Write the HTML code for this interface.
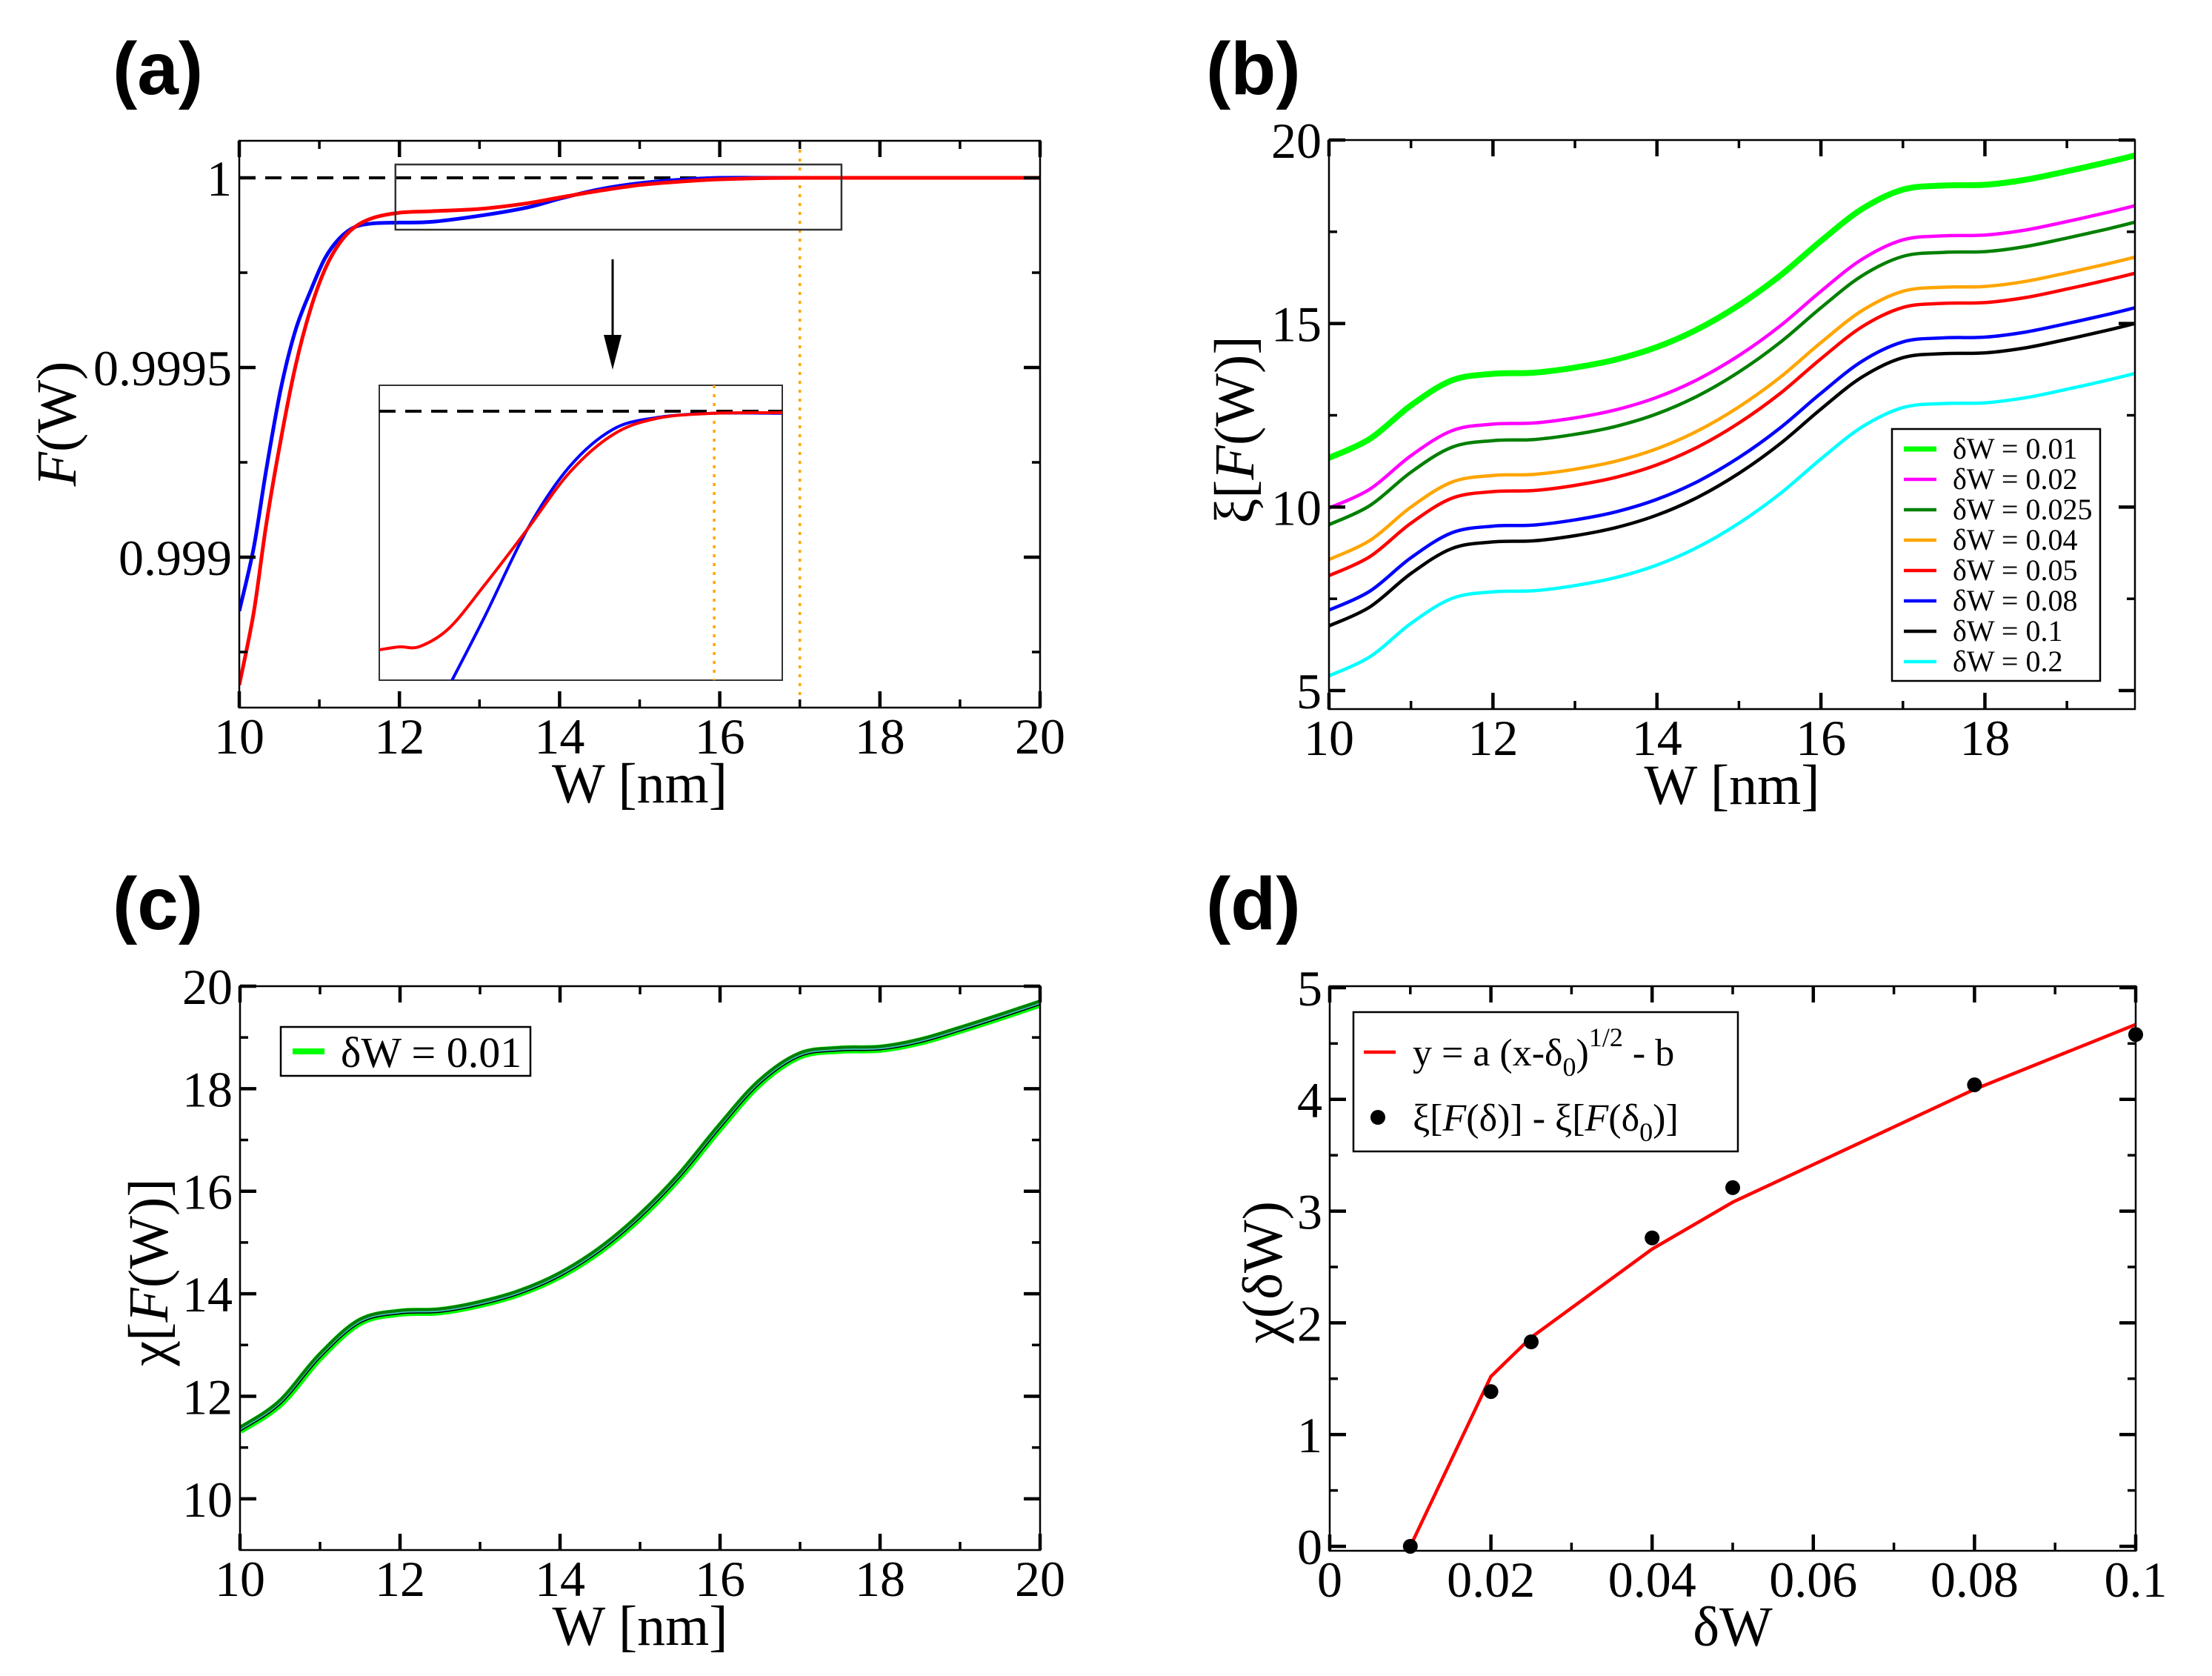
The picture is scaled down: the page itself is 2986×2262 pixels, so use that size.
<!DOCTYPE html>
<html><head><meta charset="utf-8"><style>
html,body{margin:0;padding:0;background:#fff;}
svg{display:block;}
text{font-family:"Liberation Serif","DejaVu Serif",serif;fill:#000;}
.pl{font-family:"Liberation Sans","DejaVu Sans",sans-serif;font-weight:bold;font-size:100px;}
</style></head>
<body>
<svg id="fig" xmlns="http://www.w3.org/2000/svg" width="2986" height="2262" viewBox="0 0 2986 2262">
<rect x="0" y="0" width="2986" height="2262" fill="#fff"/>
<text class="pl" x="152" y="127">(a)</text>
<text class="pl" x="1628" y="127">(b)</text>
<text class="pl" x="152" y="1254">(c)</text>
<text class="pl" x="1628" y="1254">(d)</text>
</svg>
<script>
// ---- Panel (a) data ----
const aW = [10,10.18,10.34,10.52,10.7,10.89,11.07,11.25,11.44,11.68,12,12.4,13,13.6,14,14.5,15,15.5,16,16.5,17,18,19,20];
const aBlue = [0.998858,0.999025,0.999235,0.999445,0.999597,0.999702,0.999788,0.99984,0.99987,0.99988,0.999882,0.999884,0.9999,0.999922,0.999945,0.99997,0.999986,0.999995,1.0,1.0,1.0,1.0,1.0,1.0];
const aRed = [0.998663,0.998854,0.999091,0.999311,0.999502,0.999654,0.999759,0.999827,0.99987,0.999895,0.999908,0.999912,0.999918,0.999933,0.999948,0.999966,0.999981,0.99999,0.999996,0.999999,1.0,1.0,1.0,1.0];
const aVline = 17;
const aRef = 1;
// inset (normalized units 0..100)
const insU_red = [0,5,10,17.3,26.1,36.8,47.2,57.9,68.6,82.7,100];
const insV_red = [10.3,11.3,11.4,17.6,32.2,51.3,70.4,83.2,88.7,90.5,90.7];
const insU_blue = [17.3,26.1,36.8,47.2,57.9,68.6,82.7,100];
const insV_blue = [-2,21.4,51.3,72.4,85,89,90.5,90.5];
const insRef = 91.2;
const insVline = 83.1;
const aYTicks = ['0.999','0.9995','1'];
const aYTickVals = [0.999,0.9995,1];
const aXTicks = ['10','12','14','16','18','20'];

// ---- Panel (b) data ----
const bW = [10,10.5,11,11.5,12,12.5,13,13.5,14,14.5,15,15.5,16,16.5,17,17.5,18,18.5,19,19.5,19.83];
const bLabels = ['δW = 0.01','δW = 0.02','δW = 0.025','δW = 0.04','δW = 0.05','δW = 0.08','δW = 0.1','δW = 0.2'];
const b001 = [11.34,11.86,12.77,13.45,13.63,13.66,13.8,14.02,14.36,14.85,15.5,16.3,17.25,18.12,18.65,18.76,18.78,18.92,19.15,19.4,19.58];
const b002 = [9.97,10.49,11.40,12.08,12.26,12.29,12.43,12.65,12.99,13.48,14.13,14.93,15.88,16.75,17.28,17.39,17.41,17.55,17.78,18.03,18.21];
const b0025 = [9.52,10.04,10.95,11.63,11.81,11.84,11.98,12.20,12.54,13.03,13.68,14.48,15.43,16.30,16.83,16.94,16.96,17.10,17.33,17.58,17.76];
const b004 = [8.57,9.09,10.00,10.68,10.86,10.89,11.03,11.25,11.59,12.08,12.73,13.53,14.48,15.35,15.88,15.99,16.01,16.15,16.38,16.63,16.81];
const b005 = [8.13,8.65,9.56,10.24,10.42,10.45,10.59,10.81,11.15,11.64,12.29,13.09,14.04,14.91,15.44,15.55,15.57,15.71,15.94,16.19,16.37];
const b008 = [7.19,7.71,8.62,9.30,9.48,9.51,9.65,9.87,10.21,10.70,11.35,12.15,13.10,13.97,14.50,14.61,14.63,14.77,15.00,15.25,15.43];
const b01 = [6.76,7.28,8.19,8.87,9.05,9.08,9.22,9.44,9.78,10.27,10.92,11.72,12.67,13.54,14.07,14.18,14.20,14.34,14.57,14.82,15.0];
const b02 = [5.40,5.92,6.83,7.51,7.69,7.72,7.86,8.08,8.42,8.91,9.56,10.36,11.31,12.18,12.71,12.82,12.84,12.98,13.21,13.46,13.64];
const bYTicks = ['5','10','15','20'];
const bXTicks = ['10','12','14','16','18'];

// ---- Panel (c) data ----
const cW = [10,10.5,11,11.5,12,12.5,13,13.5,14,14.5,15,15.5,16,16.5,17,17.5,18,18.5,19,19.5,20];
const cChi = [11.34,11.86,12.77,13.45,13.63,13.66,13.8,14.02,14.36,14.85,15.5,16.3,17.25,18.12,18.65,18.76,18.78,18.92,19.15,19.4,19.66];
const cYTicks = ['10','12','14','16','18','20'];
const cXTicks = ['10','12','14','16','18','20'];

// ---- Panel (d) data ----
const dFitX = [0.01,0.02,0.025,0.04,0.05,0.08,0.1];
const dFitY = [0,1.52,1.87,2.66,3.08,4.09,4.67];
const dPtX = [0.01,0.02,0.025,0.04,0.05,0.08,0.1];
const dPtY = [0,1.385,1.83,2.76,3.21,4.13,4.58];
const dYTicks = ['0','1','2','3','4','5'];
const dXTicks = ['0','0.02','0.04','0.06','0.08','0.1'];

const NS = 'http://www.w3.org/2000/svg';
const svg = document.getElementById('fig');
function mk(tag, attrs, parent) {
  const e = document.createElementNS(NS, tag);
  for (const k in attrs) e.setAttribute(k, attrs[k]);
  (parent || svg).appendChild(e);
  return e;
}
function scales(p) {
  return {
    sx: v => p.px0 + (v - p.x0) / (p.x1 - p.x0) * (p.px1 - p.px0),
    sy: v => p.py1 - (v - p.y0) / (p.y1 - p.y0) * (p.py1 - p.py0)
  };
}
function smooth(pts) {
  let d = 'M' + pts[0][0].toFixed(1) + ',' + pts[0][1].toFixed(1);
  const n = pts.length;
  for (let i = 0; i < n - 1; i++) {
    const p0 = pts[Math.max(i - 1, 0)], p1 = pts[i], p2 = pts[i + 1], p3 = pts[Math.min(i + 2, n - 1)];
    const c1x = p1[0] + (p2[0] - p0[0]) / 6, c1y = p1[1] + (p2[1] - p0[1]) / 6;
    const c2x = p2[0] - (p3[0] - p1[0]) / 6, c2y = p2[1] - (p3[1] - p1[1]) / 6;
    d += 'C' + c1x.toFixed(1) + ',' + c1y.toFixed(1) + ' ' + c2x.toFixed(1) + ',' + c2y.toFixed(1) + ' ' + p2[0].toFixed(1) + ',' + p2[1].toFixed(1);
  }
  return d;
}
let clipId = 0;
function clipFor(p) {
  clipId++;
  const cp = mk('clipPath', {id: 'clip' + clipId});
  mk('rect', {x: p.px0, y: p.py0, width: p.px1 - p.px0, height: p.py1 - p.py0}, cp);
  return 'url(#clip' + clipId + ')';
}
function frame(p, name) {
  const r = mk('rect', {x: p.px0, y: p.py0, width: p.px1 - p.px0, height: p.py1 - p.py0, fill: 'none', stroke: '#000', 'stroke-width': 2.5});
  
  
}
function ticks(p, S, xs, major) {
  const L = major ? 22 : 11;
  const w = major ? 4.5 : 3.5;
  for (const v of xs) {
    const x = S.sx(v);
    const t1 = mk('line', {x1: x, x2: x, y1: p.py1, y2: p.py1 - L, stroke: '#000', 'stroke-width': w});
    
    
    const t2 = mk('line', {x1: x, x2: x, y1: p.py0, y2: p.py0 + L, stroke: '#000', 'stroke-width': w});
    
    
  }
}
function yticks(p, S, ys, major) {
  const L = major ? 22 : 11;
  const w = major ? 4.5 : 3.5;
  for (const v of ys) {
    const y = S.sy(v);
    const t1 = mk('line', {x1: p.px0, x2: p.px0 + L, y1: y, y2: y, stroke: '#000', 'stroke-width': w});
    
    
    const t2 = mk('line', {x1: p.px1, x2: p.px1 - L, y1: y, y2: y, stroke: '#000', 'stroke-width': w});
    
    
  }
}
function xlabels(p, S, labels, vals) {
  labels.forEach((s, i) => {
    const t = mk('text', {x: S.sx(vals[i]), y: p.py1 + 62, 'font-size': 68, 'text-anchor': 'middle'});
    t.textContent = s;
    
    
  });
}
function ylabels(p, S, labels, vals) {
  labels.forEach((s, i) => {
    const t = mk('text', {x: p.px0 - 10, y: S.sy(vals[i]) + 24, 'font-size': 68, 'text-anchor': 'end'});
    t.textContent = s;
    
    
  });
}
function xtitle(p, html, name) {
  const t = mk('text', {x: (p.px0 + p.px1) / 2, y: p.py1 + 128, 'font-size': 76, 'text-anchor': 'middle'});
  t.innerHTML = html;
  
  
}
function ytitle(cx, cy, html, name) {
  const t = mk('text', {x: cx, y: cy + 26, 'font-size': 76, 'text-anchor': 'middle', transform: 'rotate(-90 ' + cx + ' ' + cy + ')'});
  t.innerHTML = html;
  
  
}
function range(a, b, st) { const r = []; for (let v = a; v <= b + 1e-9; v += st) r.push(+v.toFixed(6)); return r; }

// ================= Panel (a) =================
const pa = {x0: 10, x1: 20, y0: 1 - 715 / 512 * 0.001, y1: 1 + 50 / 512 * 0.001, px0: 323, px1: 1404, py0: 190, py1: 955};
const Sa = scales(pa);
const clipA = clipFor(pa);
const gA = mk('g', {'clip-path': clipA});


const refA = mk('line', {x1: Sa.sx(10), x2: Sa.sx(20), y1: Sa.sy(aRef), y2: Sa.sy(aRef), stroke: '#000', 'stroke-width': 4, 'stroke-dasharray': '22 13'}, gA);


const vA = mk('line', {x1: Sa.sx(aVline), x2: Sa.sx(aVline), y1: pa.py0, y2: pa.py1, stroke: '#ffa500', 'stroke-width': 3.5, 'stroke-dasharray': '4 8'}, gA);


const blueA = mk('path', {d: smooth(aW.map((w, i) => [Sa.sx(w), Sa.sy(aBlue[i])])), fill: 'none', stroke: '#0000ff', 'stroke-width': 5}, gA);


const redA = mk('path', {d: smooth(aW.map((w, i) => [Sa.sx(w), Sa.sy(aRed[i])])), fill: 'none', stroke: '#ff0000', 'stroke-width': 5}, gA);


const zb = mk('rect', {x: Sa.sx(11.95), y: Sa.sy(1 + 18 / 512 * 0.001), width: Sa.sx(17.52) - Sa.sx(11.95), height: Sa.sy(1 - 70 / 512 * 0.001) - Sa.sy(1 + 18 / 512 * 0.001), fill: 'none', stroke: '#333', 'stroke-width': 2.5});


const arl = mk('line', {x1: 827, x2: 827, y1: 350, y2: 460, stroke: '#000', 'stroke-width': 3});


const arh = mk('polygon', {points: '815,452 839,452 827,499', fill: '#000'});


// inset
const pi = {x0: 0, x1: 100, y0: 0, y1: 100, px0: 512, px1: 1056, py0: 520, py1: 918};
const Si = scales(pi);
const insBg = mk('rect', {x: 512, y: 520, width: 544, height: 398, fill: '#fff', stroke: '#333', 'stroke-width': 2});


const clipI = clipFor(pi);
const gI = mk('g', {'clip-path': clipI});


const iref = mk('line', {x1: 512, x2: 1056, y1: Si.sy(insRef), y2: Si.sy(insRef), stroke: '#000', 'stroke-width': 4, 'stroke-dasharray': '22 13'}, gI);


const iv = mk('line', {x1: Si.sx(insVline), x2: Si.sx(insVline), y1: 520, y2: 918, stroke: '#ffa500', 'stroke-width': 3.5, 'stroke-dasharray': '4 8'}, gI);


const ib = mk('path', {d: smooth(insU_blue.map((u, i) => [Si.sx(u), Si.sy(insV_blue[i])])), fill: 'none', stroke: '#0000ff', 'stroke-width': 4}, gI);


const ir = mk('path', {d: smooth(insU_red.map((u, i) => [Si.sx(u), Si.sy(insV_red[i])])), fill: 'none', stroke: '#ff0000', 'stroke-width': 4}, gI);



frame(pa, 'panel-a-frame');
ticks(pa, Sa, range(10, 20, 2), true);
ticks(pa, Sa, range(11, 19, 2), false);
yticks(pa, Sa, aYTickVals, true);
yticks(pa, Sa, [0.99875, 0.99925, 0.99975], false);
xlabels(pa, Sa, aXTicks, range(10, 20, 2));
ylabels(pa, Sa, aYTicks, aYTickVals);
xtitle(pa, 'W [nm]', 'x-axis-title-a');
ytitle(76, 572, '<tspan font-style="italic">F</tspan>(W)', 'y-axis-title-a');

// ================= Panel (b) =================
const pb = {x0: 10, x1: 19.83, y0: 4.495, y1: 20, px0: 1794, px1: 2882, py0: 189, py1: 957};
const Sb = scales(pb);
const clipB = clipFor(pb);
const gB = mk('g', {'clip-path': clipB});


const bSeries = [b001, b002, b0025, b004, b005, b008, b01, b02];
const bColors = ['#00ff00', '#ff00ff', '#008000', '#ffa500', '#ff0000', '#0000ff', '#000000', '#00ffff'];
const bWidths = [8, 4.5, 4.5, 4.5, 4.5, 4.5, 4.5, 4.5];
bSeries.forEach((ser, k) => {
  const pth = mk('path', {d: smooth(bW.map((w, i) => [Sb.sx(w), Sb.sy(ser[i])])), fill: 'none', stroke: bColors[k], 'stroke-width': bWidths[k]}, gB);
  
  
});
frame(pb, 'panel-b-frame');
ticks(pb, Sb, range(10, 18, 2), true);
ticks(pb, Sb, range(11, 19, 2), false);
yticks(pb, Sb, range(5, 20, 5), true);
yticks(pb, Sb, [7.5, 12.5, 17.5], false);
xlabels(pb, Sb, bXTicks, range(10, 18, 2));
ylabels(pb, Sb, bYTicks, range(5, 20, 5));
xtitle(pb, 'W [nm]', 'x-axis-title-b');
ytitle(1666, 580, 'ξ[<tspan font-style="italic">F</tspan>(W)]', 'y-axis-title-b');
const lgb = mk('rect', {x: 2554, y: 579, width: 281, height: 340, fill: '#fff', stroke: '#000', 'stroke-width': 2.5});


bLabels.forEach((s, k) => {
  const y = 606 + k * 41;
  const ln = mk('line', {x1: 2570, x2: 2614, y1: y, y2: y, stroke: bColors[k], 'stroke-width': k === 0 ? 7 : 4.5});
  
  
  const t = mk('text', {x: 2636, y: y + 13, 'font-size': 40});
  t.textContent = s;
  
  
});

// ================= Panel (c) =================
const pc = {x0: 10, x1: 20, y0: 9, y1: 20, px0: 324, px1: 1404, py0: 1331, py1: 2092};
const Sc = scales(pc);
const clipC = clipFor(pc);
const gC = mk('g', {'clip-path': clipC});


const cd = smooth(cW.map((w, i) => [Sc.sx(w), Sc.sy(cChi[i])]));
const c1 = mk('path', {d: cd, fill: 'none', stroke: '#00ff00', 'stroke-width': 11}, gC);


const c2 = mk('path', {d: cd, fill: 'none', stroke: '#008000', 'stroke-width': 6, transform: 'translate(-1,-2)'}, gC);


const c3 = mk('path', {d: cd, fill: 'none', stroke: '#40c0c0', 'stroke-width': 2}, gC);


const c4 = mk('path', {d: cd, fill: 'none', stroke: '#000', 'stroke-width': 1.5, transform: 'translate(0,1.5)'}, gC);


frame(pc, 'panel-c-frame');
ticks(pc, Sc, range(10, 20, 2), true);
ticks(pc, Sc, range(11, 19, 2), false);
yticks(pc, Sc, range(10, 20, 2), true);
yticks(pc, Sc, range(11, 19, 2), false);
xlabels(pc, Sc, cXTicks, range(10, 20, 2));
ylabels(pc, Sc, cYTicks, range(10, 20, 2));
xtitle(pc, 'W [nm]', 'x-axis-title-c');
ytitle(200, 1717, 'χ[<tspan font-style="italic">F</tspan>(W)]', 'y-axis-title-c');
const lgc = mk('rect', {x: 379, y: 1386, width: 337, height: 66, fill: '#fff', stroke: '#000', 'stroke-width': 2.5});


const lgcl = mk('line', {x1: 395, x2: 438, y1: 1419, y2: 1419, stroke: '#00ff00', 'stroke-width': 8});


const lgct = mk('text', {x: 460, y: 1440, 'font-size': 58});
lgct.textContent = 'δW = 0.01';



// ================= Panel (d) =================
const pd = {x0: 0, x1: 0.1, y0: -0.04, y1: 5.013, px0: 1795, px1: 2883, py0: 1331, py1: 2093};
const Sd = scales(pd);
const fit = mk('polyline', {points: dFitX.map((x, i) => Sd.sx(x).toFixed(1) + ',' + Sd.sy(dFitY[i]).toFixed(1)).join(' '), fill: 'none', stroke: '#ff0000', 'stroke-width': 4.5});


dPtX.forEach((x, i) => {
  const c = mk('circle', {cx: Sd.sx(x), cy: Sd.sy(dPtY[i]), r: 10, fill: '#000'});
  
  
});
frame(pd, 'panel-d-frame');
ticks(pd, Sd, range(0, 0.1, 0.02), true);
ticks(pd, Sd, range(0.01, 0.09, 0.02), false);
yticks(pd, Sd, range(0, 5, 1), true);
yticks(pd, Sd, range(0.5, 4.5, 1), false);
xlabels(pd, Sd, dXTicks, range(0, 0.1, 0.02));
ylabels(pd, Sd, dYTicks, range(0, 5, 1));
xtitle(pd, 'δW', 'x-axis-title-d');
ytitle(1704, 1717, 'χ(δW)', 'y-axis-title-d');
const lgd = mk('rect', {x: 1827, y: 1366, width: 519, height: 188, fill: '#fff', stroke: '#000', 'stroke-width': 2.5});


const lgdl = mk('line', {x1: 1841, x2: 1884, y1: 1420, y2: 1420, stroke: '#ff0000', 'stroke-width': 4.5});


const lgdt1 = mk('text', {x: 1907, y: 1438, 'font-size': 52});
lgdt1.innerHTML = 'y = a (x-δ<tspan font-size="36" dy="14">0</tspan><tspan dy="-14">)</tspan><tspan font-size="36" dy="-26">1/2</tspan><tspan dy="26"> - b</tspan>';


const lgdc = mk('circle', {cx: 1860, cy: 1508, r: 10, fill: '#000'});


const lgdt2 = mk('text', {x: 1907, y: 1526, 'font-size': 52});
lgdt2.innerHTML = 'ξ[<tspan font-style="italic">F</tspan>(δ)] - ξ[<tspan font-style="italic">F</tspan>(δ<tspan font-size="36" dy="14">0</tspan><tspan dy="-14">)]</tspan>';


</script>
</body></html>
